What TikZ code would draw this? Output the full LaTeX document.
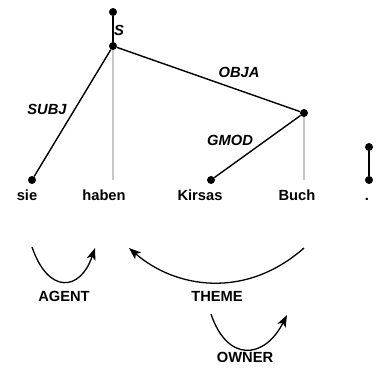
\documentclass[tikz,border=0pt]{standalone}
\usepackage{fontspec}
\setmainfont{Liberation Sans}
\usetikzlibrary{arrows.meta}
\definecolor{projgray}{RGB}{200,200,200}

\begin{document}
\begin{tikzpicture}[x=1pt,y=-1pt,
	dot/.style={circle,fill=black,inner sep=0pt,minimum size=8pt},
	word/.style={anchor=base,font=\fontsize{14.7}{17}\selectfont\bfseries},
	rel/.style={anchor=base,font=\fontsize{14.7}{17}\selectfont\bfseries\itshape},
	dep/.style={line width=1.4pt},
	proj/.style={projgray,line width=1.4pt},
	role/.style={line width=1.3pt,-{Stealth[length=12pt,width=9pt,inset=3pt]}}]

\useasboundingbox (0,0) rectangle (378,371);

\node[dot] (root) at (113,12) {};
\node[dot] (s) at (113,46) {};
\node[dot] (objA) at (304,113) {};
\node[dot] (sie) at (32,180) {};
\node[dot] (kirsas) at (211,180) {};
\node[dot] (puncttop) at (369,147) {};
\node[dot] (punct) at (369,180) {};
\coordinate (haben) at (113,180);
\coordinate (buch) at (304,180);

\draw[proj] (s) -- (haben);
\draw[proj] (objA) -- (buch);

\draw[dep] (root) -- (s);
\draw[dep] (s) -- (sie);
\draw[dep] (s) -- (objA);
\draw[dep] (objA) -- (kirsas);
\draw[dep] (puncttop) -- (punct);

\node[rel] (lS) at (119,36) {S};
\node[rel] (lSUBJ) at (47,115) {SUBJ};
\node[rel] (lOBJA) at (239,78) {OBJA};
\node[rel] (lGMOD) at (230,146) {GMOD};

\node[word] (wsie) at (27,201) {sie};
\node[word] (whaben) at (104,201) {haben};
\node[word] (wkirsas) at (200,201) {Kirsas};
\node[word] (wbuch) at (297,201) {Buch};
\node[word] (wpunct) at (367,201) {.};

\coordinate (agentA) at (32,247);
\coordinate (agentB) at (95,248);
\coordinate (themeA) at (304,248);
\coordinate (themeB) at (129,248);
\coordinate (ownerA) at (211,314);
\coordinate (ownerB) at (287,315);

\draw[role] (agentA) .. controls (48,294) and (80,292) .. (agentB);
\draw[role] (themeA) .. controls (245,300) and (175,288) .. (themeB);
\draw[role] (ownerA) .. controls (227,362) and (264,360) .. (ownerB);

\node[word] (lAGENT) at (64,302) {AGENT};
\node[word] (lTHEME) at (217,302) {THEME};
\node[word] (lOWNER) at (245,363) {OWNER};
\end{tikzpicture}
\end{document}
